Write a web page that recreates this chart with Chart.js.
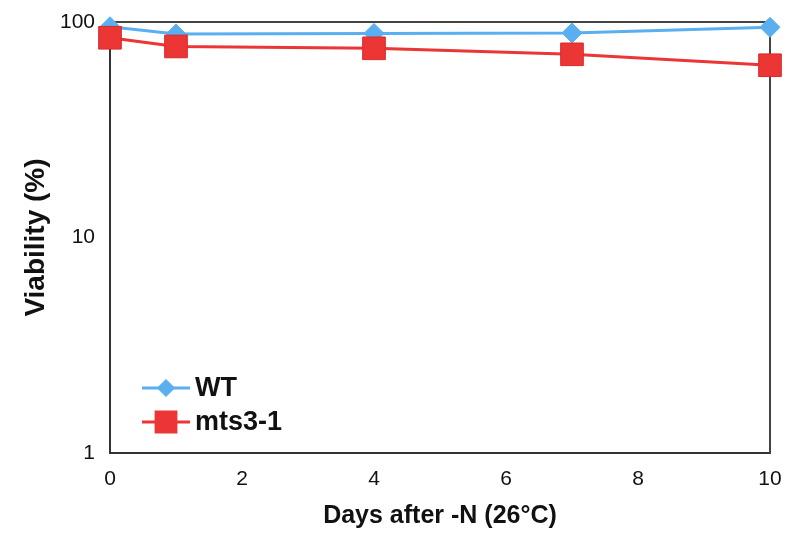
<!DOCTYPE html>
<html>
<head>
<meta charset="utf-8">
<script src="https://cdn.jsdelivr.net/npm/chart.js@4/dist/chart.umd.min.js"></script>
<style>
  html, body { margin: 0; padding: 0; background: #fff; }
  #wrap { width: 800px; height: 536px; }
</style>
</head>
<body>
<div id="wrap"><canvas id="chart"></canvas></div>
<script>
'use strict';

const days = [0, 1, 4, 7, 10];
const wtValues = [95, 88, 88.5, 89, 94.5];
const mtsValues = [84.5, 77, 75.5, 70.8, 63];
const yTicks = [1, 10, 100];
const xTicks = [0, 2, 4, 6, 8, 10];

const FONT = '"Liberation Sans", Arial, Helvetica, sans-serif';
const BLUE = '#5aaff0';
const RED = '#ec3535';

function toPoints(xs, ys) {
    return xs.map((x, i) => ({ x: x, y: ys[i] }));
}

// frame on top and right, legend drawn with line + marker
const framePlugin = {
    id: 'frame',
    beforeDatasetsDraw(chart) {
        const a = chart.chartArea;
        const ctx = chart.ctx;
        ctx.save();
        ctx.strokeStyle = '#444';
        ctx.lineWidth = 2;
        ctx.beginPath();
        ctx.moveTo(a.left, a.top);
        ctx.lineTo(a.right, a.top);
        ctx.lineTo(a.right, a.bottom);
        ctx.stroke();
        ctx.restore();
    },
    afterDatasetsDraw(chart) {
        const a = chart.chartArea;
        const ctx = chart.ctx;
        const items = [chart.data.datasets[1], chart.data.datasets[0]];
        items.forEach((ds, i) => {
            const y = a.bottom - 65 + i * 34;
            const x0 = a.left + 32;
            ctx.save();
            ctx.strokeStyle = ds.borderColor;
            ctx.lineWidth = 3;
            ctx.beginPath();
            ctx.moveTo(x0, y);
            ctx.lineTo(x0 + 48, y);
            ctx.stroke();
            ctx.fillStyle = ds.pointBackgroundColor;
            ctx.strokeStyle = ds.pointBackgroundColor;
            Chart.helpers.drawPoint(ctx, {
                pointStyle: ds.pointStyle,
                radius: ds.pointStyle === 'rect' ? 14 : 7,
                borderWidth: 1,
                rotation: 0
            }, x0 + 24, y);
            ctx.fillStyle = '#111';
            ctx.font = 'bold 27px ' + FONT;
            ctx.textBaseline = 'middle';
            ctx.fillText(ds.label, x0 + 53, y + 1);
            ctx.restore();
        });
    }
};

new Chart(document.getElementById('chart'), {
    type: 'line',
    data: {
        datasets: [
            {
                label: 'mts3-1',
                data: toPoints(days, mtsValues),
                borderColor: RED,
                borderWidth: 3,
                pointStyle: 'rect',
                pointRadius: 16,
                pointBackgroundColor: RED,
                pointBorderColor: '#d92a2a',
                pointBorderWidth: 1,
                clip: false,
                order: 0
            },
            {
                label: 'WT',
                data: toPoints(days, wtValues),
                borderColor: BLUE,
                borderWidth: 3,
                pointStyle: 'rectRot',
                pointRadius: 10,
                pointBackgroundColor: BLUE,
                pointBorderColor: BLUE,
                pointBorderWidth: 1,
                clip: false,
                order: 1
            }
        ]
    },
    options: {
        responsive: true,
        maintainAspectRatio: false,
        animation: false,
        layout: { padding: { top: 22, right: 30, left: 0, bottom: 0 } },
        plugins: {
            legend: { display: false },
            tooltip: { enabled: false }
        },
        scales: {
            x: {
                type: 'linear',
                min: 0,
                max: 10,
                afterBuildTicks(scale) {
                    scale.ticks = xTicks.map(v => ({ value: v }));
                },
                afterFit(scale) {
                    scale.height = 83;
                },
                grid: { display: true, drawOnChartArea: false, tickLength: 0 },
                border: { display: true, color: '#333', width: 2 },
                ticks: {
                    color: '#111',
                    padding: 14,
                    maxRotation: 0,
                    font: { family: FONT, size: 21 }
                },
                title: {
                    display: true,
                    text: 'Days after -N (26°C)',
                    color: '#111',
                    padding: { top: 4, bottom: 5 },
                    font: { family: FONT, size: 25, weight: 'bold' }
                }
            },
            y: {
                type: 'logarithmic',
                min: 1,
                max: 100,
                afterBuildTicks(scale) {
                    scale.ticks = yTicks.map(v => ({ value: v }));
                },
                afterFit(scale) {
                    scale.width = 110;
                    scale.paddingTop = 0;
                },
                grid: { display: true, drawOnChartArea: false, tickLength: 0 },
                border: { display: true, color: '#333', width: 2 },
                ticks: {
                    color: '#111',
                    padding: 15,
                    font: { family: FONT, size: 21 },
                    callback: (v) => String(v)
                },
                title: {
                    display: true,
                    text: 'Viability (%)',
                    color: '#111',
                    padding: { top: 19, bottom: 0 },
                    font: { family: FONT, size: 28, weight: 'bold' }
                }
            }
        }
    },
    plugins: [framePlugin]
});
</script>
</body>
</html>
